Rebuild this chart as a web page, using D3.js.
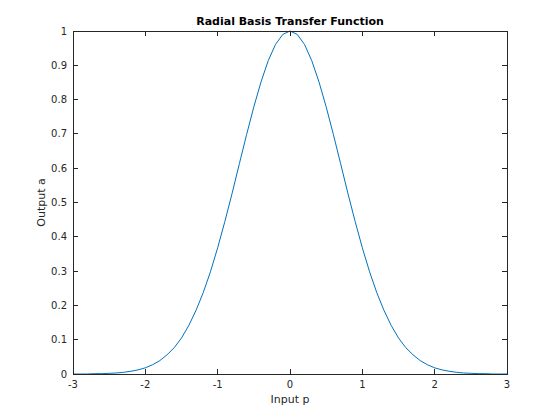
<!DOCTYPE html>
<html><head><meta charset="utf-8">
<script src="https://cdn.jsdelivr.net/npm/d3@7"></script>
<style>body{margin:0;background:#fff}svg{display:block}text{font-family:"DejaVu Sans",sans-serif;fill:#262626}</style>
</head><body><svg id="c" width="560" height="420"></svg>
<script>
const pValues = [-3,-2.9,-2.8,-2.7,-2.6,-2.5,-2.4,-2.3,-2.2,-2.1,-2,-1.9,-1.8,-1.7,-1.6,-1.5,-1.4,-1.3,-1.2,-1.1,-1,-0.9,-0.8,-0.7,-0.6,-0.5,-0.4,-0.3,-0.2,-0.1,0,0.1,0.2,0.3,0.4,0.5,0.6,0.7,0.8,0.9,1,1.1,1.2,1.3,1.4,1.5,1.6,1.7,1.8,1.9,2,2.1,2.2,2.3,2.4,2.5,2.6,2.7,2.8,2.9,3];
const aValues = [0.000,0.000,0.000,0.001,0.001,0.002,0.003,0.005,0.008,0.012,0.018,0.027,0.039,0.056,0.077,0.105,0.141,0.185,0.237,0.298,0.368,0.445,0.527,0.613,0.698,0.779,0.852,0.914,0.961,0.990,1.000,0.990,0.961,0.914,0.852,0.779,0.698,0.613,0.527,0.445,0.368,0.298,0.237,0.185,0.141,0.105,0.077,0.056,0.039,0.027,0.018,0.012,0.008,0.005,0.003,0.002,0.001,0.001,0.000,0.000,0.000];
const xTicks = [-3,-2,-1,0,1,2,3];
const yTicks = [0,0.1,0.2,0.3,0.4,0.5,0.6,0.7,0.8,0.9,1];
const titleText = "Radial Basis Transfer Function";
const xLabel = "Input p", yLabel = "Output a";

const L=73,R=507,T=31,B=374;
const svg=d3.select("#c");
const x=d3.scaleLinear().domain([-3,3]).range([L,R]);
const y=d3.scaleLinear().domain([0,1]).range([B,T]);
const tk=5;
const fmt=d=>String(d);

svg.append("path").datum(pValues.map((p,i)=>[p,aValues[i]]))
 .attr("fill","none").attr("stroke","#0072BD").attr("stroke-width",1)
 .attr("d",d3.line().x(d=>x(d[0])).y(d=>y(d[1])));

const ax=svg.append("g").attr("stroke","#262626").attr("stroke-width",1).attr("shape-rendering","crispEdges");
ax.append("rect").attr("x",L).attr("y",T).attr("width",R-L).attr("height",B-T).attr("fill","none");
xTicks.forEach(t=>{
  ax.append("line").attr("x1",x(t)).attr("x2",x(t)).attr("y1",B).attr("y2",B-tk);
  ax.append("line").attr("x1",x(t)).attr("x2",x(t)).attr("y1",T).attr("y2",T+tk);
});
yTicks.forEach(t=>{
  ax.append("line").attr("x1",L).attr("x2",L+tk).attr("y1",y(t)).attr("y2",y(t));
  ax.append("line").attr("x1",R).attr("x2",R-tk).attr("y1",y(t)).attr("y2",y(t));
});
svg.selectAll(".xt").data(xTicks).enter().append("text").attr("x",d=>x(d)).attr("y",B+14)
 .attr("text-anchor","middle").attr("font-size",10).text(fmt);
svg.selectAll(".yt").data(yTicks).enter().append("text").attr("x",L-6).attr("y",d=>y(d)+3.5)
 .attr("text-anchor","end").attr("font-size",10).text(fmt);
svg.append("text").attr("x",(L+R)/2).attr("y",25).attr("text-anchor","middle")
 .attr("font-size",11).attr("font-weight","bold").style("fill","#000").text(titleText);
svg.append("text").attr("x",(L+R)/2).attr("y",403).attr("text-anchor","middle").attr("font-size",11).text(xLabel);
svg.append("text").attr("transform",`translate(45,${(T+B)/2}) rotate(-90)`).attr("text-anchor","middle").attr("font-size",11).text(yLabel);
</script></body></html>
